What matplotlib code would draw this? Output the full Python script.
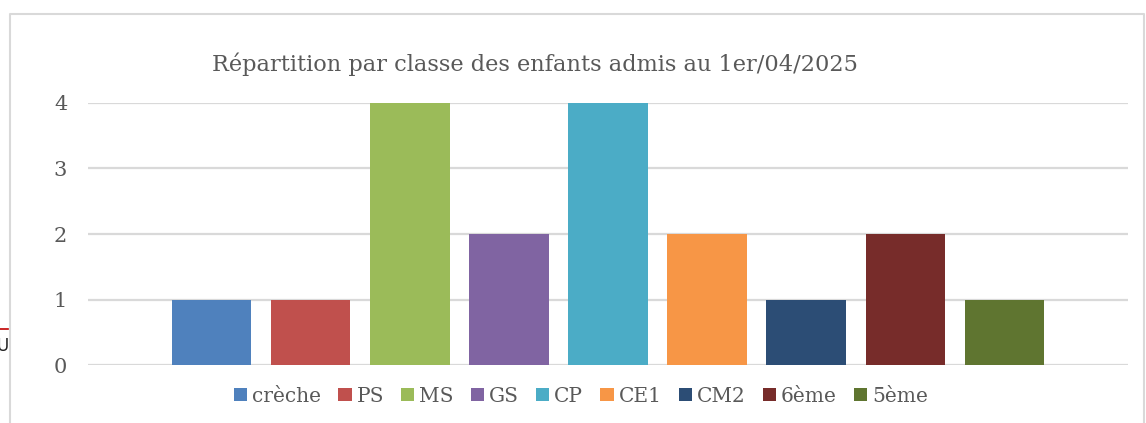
import matplotlib
matplotlib.use("Agg")
import matplotlib.pyplot as plt
from matplotlib.lines import Line2D
from matplotlib.patches import Patch

categories = ["crèche", "PS", "MS", "GS", "CP", "CE1", "CM2", "6ème", "5ème"]
values = [1, 1, 4, 2, 4, 2, 1, 2, 1]
colors = ["#4F81BD", "#C0504D", "#9BBB59", "#8064A2", "#4BACC6",
          "#F79646", "#2C4D75", "#772C2A", "#5F7530"]
yticks = [0, 1, 2, 3, 4]
title = "Répartition par classe des enfants admis au 1er/04/2025"

W, H = 1146, 423
fig = plt.figure(figsize=(W / 100, H / 100), dpi=100)
plt.rcParams['font.family'] = ['DejaVu Serif']
txt = "#595959"

ax = fig.add_axes([88 / W, 1 - 365 / H, (1128 - 88) / W, (365 - 103) / H])
x = list(range(len(categories)))
ax.bar(x, values, width=0.8, color=colors, zorder=3)
ax.set_xlim(-1.25, len(categories) - 1 + 1.25)
ax.set_ylim(0, 4)
ax.set_yticks(yticks)
ax.set_yticklabels([str(v) for v in yticks], fontsize=15, color=txt)
ax.tick_params(axis='y', length=0, pad=15)
ax.set_xticks([])
ax.grid(axis='y', color="#D9D9D9", linewidth=1.6, zorder=0)
for s in ax.spines.values():
    s.set_visible(False)

fig.text(535 / W, 1 - 64 / H, title, ha='center', va='center', fontsize=16.2, color=txt)

handles = [Patch(facecolor=c, edgecolor='none') for c in colors]
fig.legend(handles, categories, loc='center', bbox_to_anchor=(581 / W, 1 - 396 / H),
           ncol=len(categories), frameon=False, fontsize=14.5, labelcolor=txt,
           handlelength=0.65, handleheight=0.65, handletextpad=0.25, columnspacing=0.85)

# chart frame
fig.add_artist(Line2D([9.5 / W, 9.5 / W, 1144 / W, 1144 / W], [0, 1 - 14 / H, 1 - 14 / H, 0],
                      transform=fig.transFigure, color="#D9D9D9", linewidth=1.5))
# document artifacts at the left edge
fig.add_artist(Line2D([0, 8 / W], [1 - 329 / H, 1 - 329 / H], transform=fig.transFigure,
                      color="#C00000", linewidth=1.2))
fig.text(-4 / W, 1 - 346 / H, "U", ha='left', va='center', fontsize=12, color="#222222",
         family='DejaVu Sans')

fig.savefig("out.png", dpi=100)
